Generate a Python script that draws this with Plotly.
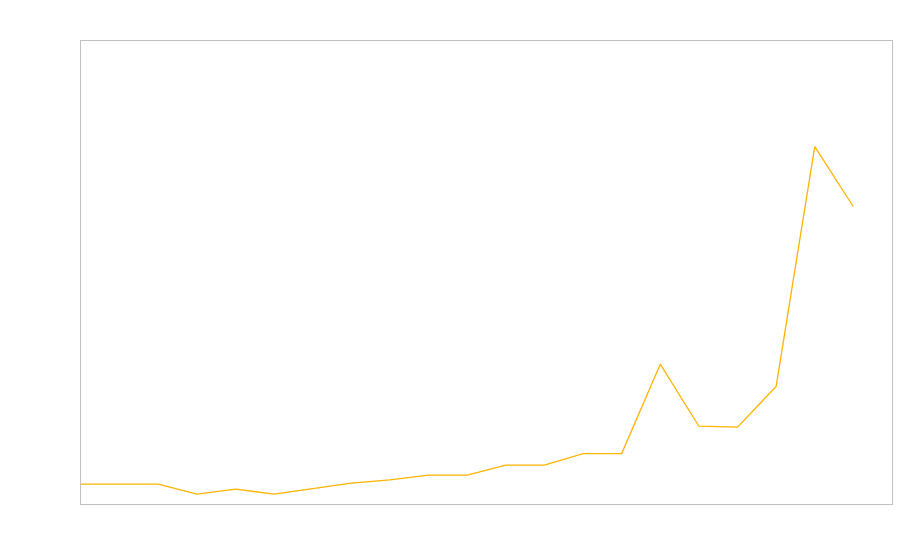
import plotly.graph_objects as go

x_index = list(range(21))
values = [4.3, 4.3, 4.3, 2.15, 3.2, 2.15, 3.3, 4.5, 5.2, 6.25, 6.25, 8.4, 8.4,
          10.9, 10.9, 30.2, 16.8, 16.6, 25.4, 77.2, 64.2]

fig = go.Figure()
fig.add_trace(go.Scatter(x=x_index, y=values, mode="lines",
                         line=dict(color="#FFB300", width=1.3),
                         hoverinfo="skip", showlegend=False))

axis_common = dict(showline=True, mirror=True, linecolor="#c0c0c0", linewidth=1,
                   showgrid=False, zeroline=False, showticklabels=False, ticks="")
fig.update_xaxes(range=[0, 21], **axis_common)
fig.update_yaxes(range=[0, 100], **axis_common)
fig.update_layout(width=900, height=560, margin=dict(l=81, r=8, t=41, b=56),
                  plot_bgcolor="white", paper_bgcolor="white")
fig.write_html("out.html", config={"displayModeBar": False},
               post_script="document.body.style.margin='0';document.body.style.overflow='hidden';")
